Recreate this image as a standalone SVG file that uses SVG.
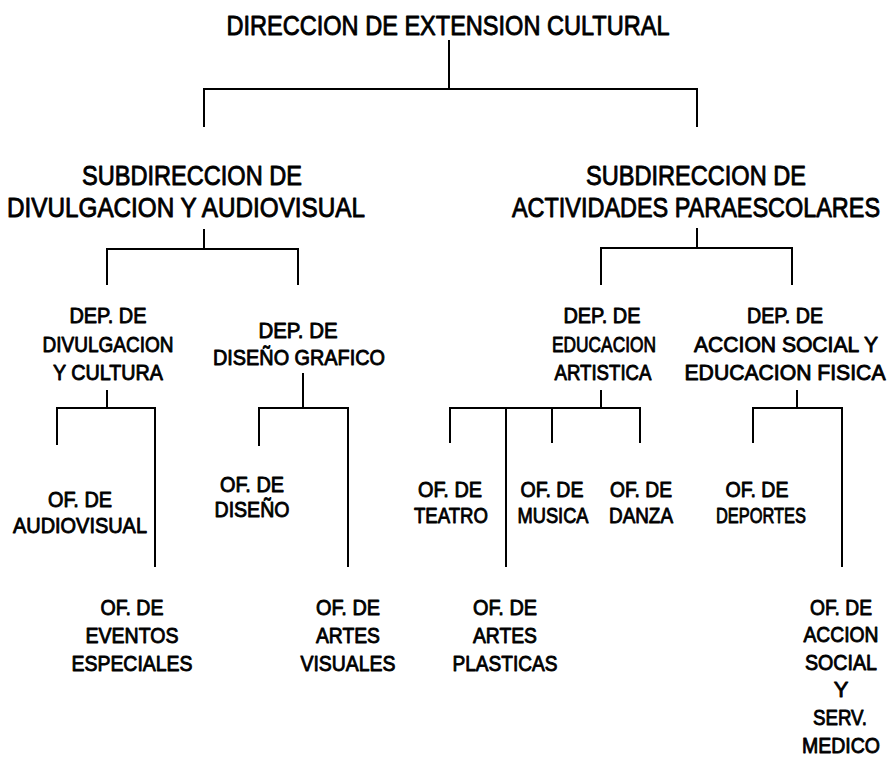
<svg xmlns="http://www.w3.org/2000/svg" width="895" height="760" viewBox="0 0 895 760">
<style>
text{font-family:"Liberation Sans",Arial,sans-serif;fill:#000;stroke:#000;stroke-width:0.9;stroke-linejoin:round;text-anchor:middle}
.t1{font-size:28px}
.t2{font-size:28px}
.t3{font-size:22px}
.t4{font-size:22px}
#connectors line{stroke:#000;stroke-width:2}
</style>
<rect width="895" height="760" fill="#fff"/>
<g id="connectors">
<line x1="449" y1="40" x2="449" y2="89"/>
<line x1="203" y1="89" x2="698" y2="89"/>
<line x1="204" y1="88" x2="204" y2="127"/>
<line x1="697" y1="88" x2="697" y2="127"/>
<line x1="204" y1="229" x2="204" y2="249"/>
<line x1="106" y1="249" x2="299" y2="249"/>
<line x1="107" y1="248" x2="107" y2="285"/>
<line x1="298" y1="248" x2="298" y2="285"/>
<line x1="697" y1="228" x2="697" y2="248"/>
<line x1="600" y1="248" x2="793" y2="248"/>
<line x1="601" y1="247" x2="601" y2="285"/>
<line x1="792" y1="247" x2="792" y2="285"/>
<line x1="107" y1="390" x2="107" y2="408"/>
<line x1="56" y1="408" x2="156" y2="408"/>
<line x1="57" y1="407" x2="57" y2="445"/>
<line x1="155" y1="407" x2="155" y2="567"/>
<line x1="303" y1="373" x2="303" y2="408"/>
<line x1="258" y1="408" x2="349" y2="408"/>
<line x1="259" y1="407" x2="259" y2="446"/>
<line x1="348" y1="407" x2="348" y2="567"/>
<line x1="601" y1="390" x2="601" y2="408"/>
<line x1="449" y1="408" x2="641" y2="408"/>
<line x1="450" y1="407" x2="450" y2="443"/>
<line x1="506" y1="407" x2="506" y2="567"/>
<line x1="552" y1="407" x2="552" y2="443"/>
<line x1="640" y1="407" x2="640" y2="443"/>
<line x1="797" y1="390" x2="797" y2="408"/>
<line x1="752" y1="408" x2="843" y2="408"/>
<line x1="753" y1="407" x2="753" y2="443"/>
<line x1="842" y1="407" x2="842" y2="567"/>
</g>
<g id="direccion"><text class="t1" x="448" y="35" textLength="443" lengthAdjust="spacingAndGlyphs">DIRECCION DE EXTENSION CULTURAL</text></g>
<g id="sub-divulgacion">
<text class="t2" x="192" y="185" textLength="220" lengthAdjust="spacingAndGlyphs">SUBDIRECCION DE</text>
<text class="t2" x="186" y="217" textLength="358" lengthAdjust="spacingAndGlyphs">DIVULGACION Y AUDIOVISUAL</text>
</g>
<g id="sub-paraescolares">
<text class="t2" x="696" y="185" textLength="220" lengthAdjust="spacingAndGlyphs">SUBDIRECCION DE</text>
<text class="t2" transform="translate(696,217) scale(0.85,1)" x="0" y="0" textLength="433" lengthAdjust="spacingAndGlyphs">ACTIVIDADES PARAESCOLARES</text>
</g>
<g id="dep-divulgacion">
<text class="t3" x="108" y="323" textLength="77" lengthAdjust="spacingAndGlyphs">DEP. DE</text>
<text class="t3" x="108" y="352" textLength="131" lengthAdjust="spacingAndGlyphs">DIVULGACION</text>
<text class="t3" x="108" y="380" textLength="110" lengthAdjust="spacingAndGlyphs">Y CULTURA</text>
</g>
<g id="dep-diseno">
<text class="t3" x="298" y="338" textLength="79" lengthAdjust="spacingAndGlyphs">DEP. DE</text>
<text class="t3" x="299" y="365" textLength="172" lengthAdjust="spacingAndGlyphs">DISEÑO GRAFICO</text>
</g>
<g id="dep-educacion">
<text class="t3" x="602" y="323" textLength="77" lengthAdjust="spacingAndGlyphs">DEP. DE</text>
<text class="t3" x="604" y="352" textLength="104" lengthAdjust="spacingAndGlyphs">EDUCACION</text>
<text class="t3" x="603" y="380" textLength="97" lengthAdjust="spacingAndGlyphs">ARTISTICA</text>
</g>
<g id="dep-accion">
<text class="t3" x="785" y="323" textLength="76" lengthAdjust="spacingAndGlyphs">DEP. DE</text>
<text class="t3" x="786" y="352" textLength="184" lengthAdjust="spacingAndGlyphs">ACCION SOCIAL Y</text>
<text class="t3" x="785" y="380" textLength="201" lengthAdjust="spacingAndGlyphs">EDUCACION FISICA</text>
</g>
<g id="of-audiovisual">
<text class="t4" x="80" y="507" textLength="64" lengthAdjust="spacingAndGlyphs">OF. DE</text>
<text class="t4" x="80" y="533" textLength="134" lengthAdjust="spacingAndGlyphs">AUDIOVISUAL</text>
</g>
<g id="of-diseno">
<text class="t4" x="252" y="492" textLength="64" lengthAdjust="spacingAndGlyphs">OF. DE</text>
<text class="t4" x="252" y="517" textLength="75" lengthAdjust="spacingAndGlyphs">DISEÑO</text>
</g>
<g id="of-teatro">
<text class="t4" x="450" y="497" textLength="64" lengthAdjust="spacingAndGlyphs">OF. DE</text>
<text class="t4" x="451" y="523" textLength="74" lengthAdjust="spacingAndGlyphs">TEATRO</text>
</g>
<g id="of-musica">
<text class="t4" x="552" y="497" textLength="63" lengthAdjust="spacingAndGlyphs">OF. DE</text>
<text class="t4" x="553" y="523" textLength="71" lengthAdjust="spacingAndGlyphs">MUSICA</text>
</g>
<g id="of-danza">
<text class="t4" x="641" y="497" textLength="62" lengthAdjust="spacingAndGlyphs">OF. DE</text>
<text class="t4" x="641" y="523" textLength="64" lengthAdjust="spacingAndGlyphs">DANZA</text>
</g>
<g id="of-deportes">
<text class="t4" x="757" y="497" textLength="63" lengthAdjust="spacingAndGlyphs">OF. DE</text>
<text class="t4" x="761" y="523" textLength="90" lengthAdjust="spacingAndGlyphs">DEPORTES</text>
</g>
<g id="of-eventos">
<text class="t4" x="132" y="615" textLength="63" lengthAdjust="spacingAndGlyphs">OF. DE</text>
<text class="t4" x="132" y="643" textLength="93" lengthAdjust="spacingAndGlyphs">EVENTOS</text>
<text class="t4" x="132" y="671" textLength="121" lengthAdjust="spacingAndGlyphs">ESPECIALES</text>
</g>
<g id="of-artes-visuales">
<text class="t4" x="348" y="615" textLength="64" lengthAdjust="spacingAndGlyphs">OF. DE</text>
<text class="t4" x="348" y="643" textLength="64" lengthAdjust="spacingAndGlyphs">ARTES</text>
<text class="t4" x="348" y="671" textLength="95" lengthAdjust="spacingAndGlyphs">VISUALES</text>
</g>
<g id="of-artes-plasticas">
<text class="t4" x="505" y="615" textLength="64" lengthAdjust="spacingAndGlyphs">OF. DE</text>
<text class="t4" x="505" y="643" textLength="64" lengthAdjust="spacingAndGlyphs">ARTES</text>
<text class="t4" x="505" y="671" textLength="105" lengthAdjust="spacingAndGlyphs">PLASTICAS</text>
</g>
<g id="of-accion-social">
<text class="t4" x="841" y="615" textLength="62" lengthAdjust="spacingAndGlyphs">OF. DE</text>
<text class="t4" x="841" y="642" textLength="75" lengthAdjust="spacingAndGlyphs">ACCION</text>
<text class="t4" x="841" y="670" textLength="72" lengthAdjust="spacingAndGlyphs">SOCIAL</text>
<text class="t4" x="841" y="697">Y</text>
<text class="t4" x="840" y="725" textLength="54" lengthAdjust="spacingAndGlyphs">SERV.</text>
<text class="t4" x="841" y="753" textLength="78" lengthAdjust="spacingAndGlyphs">MEDICO</text>
</g>
</svg>
